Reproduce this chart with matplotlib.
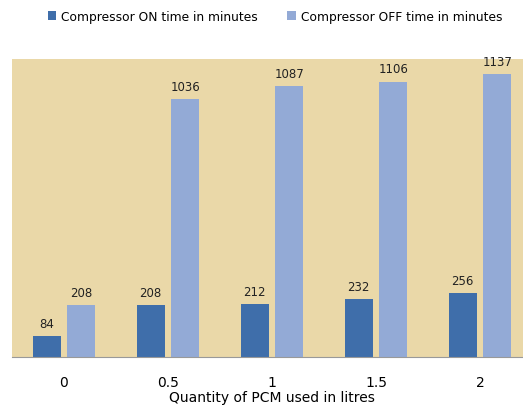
import matplotlib.pyplot as plt
import numpy as np

# data
pcm_litres = ["0", "0.5", "1", "1.5", "2"]
on_time = [84, 208, 212, 232, 256]
off_time = [208, 1036, 1087, 1106, 1137]

on_color = "#3F6EAA"
off_color = "#93AAD6"
bg_color = "#EAD8A8"

fig = plt.figure(figsize=(5.23, 4.10), dpi=100)
ax = fig.add_axes([12/523, 1-358/410, 520/523, 298/410])
ax.set_facecolor(bg_color)

x = np.arange(len(pcm_litres))
off = 0.168
w = 0.269
b1 = ax.bar(x - off, on_time, w, color=on_color, label="Compressor ON time in minutes")
b2 = ax.bar(x + off, off_time, w, color=off_color, label="Compressor OFF time in minutes")

for bars, vals in ((b1, on_time), (b2, off_time)):
	for b, v in zip(bars, vals):
		ax.text(b.get_x() + b.get_width()/2, v + 25, str(v), ha="center", va="bottom",
			fontsize=8.5, color="#222222")

ax.set_xlim(-0.5, 4.5)
ax.set_ylim(0, 1197)
ax.set_yticks([])
ax.set_xticks(x)
ax.set_xticklabels(pcm_litres, fontsize=10)
ax.tick_params(axis="x", length=0, pad=13)
ax.set_xlabel("Quantity of PCM used in litres", fontsize=10, labelpad=1)
for s in ["top", "right", "left"]:
	ax.spines[s].set_visible(False)
ax.spines["bottom"].set_color("#999999")

fig.legend(loc="center", bbox_to_anchor=(0.526, 0.958), ncol=2, frameon=False,
	fontsize=8.8, handlelength=0.7, handleheight=0.7, columnspacing=2.4, handletextpad=0.4)

plt.savefig("out.png", dpi=100)
